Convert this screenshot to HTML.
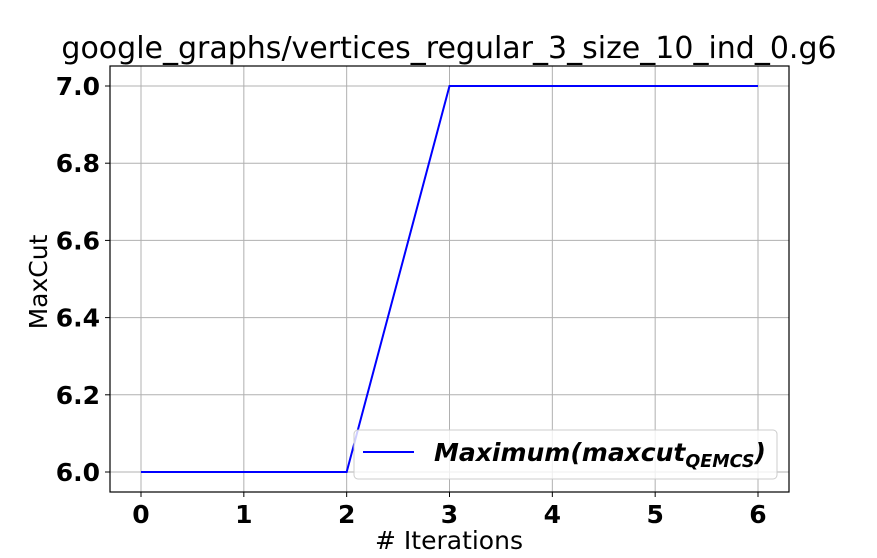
<!DOCTYPE html>
<html><head><meta charset="utf-8"><style>
body{margin:0;background:#fff;}
svg text{font-family:"DejaVu Sans","Liberation Sans",sans-serif;}
</style></head><body>
<svg id="chart" width="877" height="553" xmlns="http://www.w3.org/2000/svg">
<rect width="877" height="553" fill="#fff"/>
<text x="449" y="58" font-size="30" text-anchor="middle">google_graphs/vertices_regular_3_size_10_ind_0.g6</text>
<g id="grid"></g>
<g id="ticks"></g>
<polyline id="line" fill="none" stroke="#0000ff" stroke-width="2"/>
<rect x="110" y="66" width="679" height="426" fill="none" stroke="#000" stroke-width="1.2"/>
<text x="449" y="549" font-size="25" text-anchor="middle"># Iterations</text>
<text transform="translate(47,282) rotate(-90)" font-size="25" text-anchor="middle">MaxCut</text>
<g>
<rect x="354" y="430" width="423" height="49" rx="4" fill="#fff" fill-opacity="0.8" stroke="#ccc"/>
<line x1="363" y1="452" x2="414" y2="452" stroke="#0000ff" stroke-width="2"/>
<text x="434" y="461" font-size="25" font-weight="bold" font-style="italic">Maximum(maxcut<tspan font-size="17.5" dy="6">QEMCS</tspan><tspan dy="-6">)</tspan></text>
</g>
</svg>
<script>
const iterations=[0,1,2,3,4,5,6];
const maxcut=[6,6,6,7,7,7,7];
const xTicks=[0,1,2,3,4,5,6];
const yTicks=[6.0,6.2,6.4,6.6,6.8,7.0];
const ns="http://www.w3.org/2000/svg";
const xs=v=>141+(758-141)*v/6;
const ys=v=>472-(v-6)*386;
const grid=document.getElementById('grid'),ticks=document.getElementById('ticks');
function mk(tag,a,p){const e=document.createElementNS(ns,tag);for(const k in a)e.setAttribute(k,a[k]);p.appendChild(e);return e;}
xTicks.forEach(t=>{
 const g=mk('line',{x1:xs(t),x2:xs(t),y1:66,y2:492,stroke:'#b0b0b0','stroke-width':1},grid);
 
 
 mk('line',{x1:xs(t),x2:xs(t),y1:492,y2:497,stroke:'#000'},ticks);
 const tx=mk('text',{x:xs(t),y:523,'font-size':25,'font-weight':'bold','text-anchor':'middle'},ticks);
 tx.textContent=t;
 
 
});
yTicks.forEach(t=>{
 const g=mk('line',{x1:110,x2:789,y1:ys(t),y2:ys(t),stroke:'#b0b0b0','stroke-width':1},grid);
 
 
 mk('line',{x1:105,x2:110,y1:ys(t),y2:ys(t),stroke:'#000'},ticks);
 const tx=mk('text',{x:100,y:ys(t)+9,'font-size':25,'font-weight':'bold','text-anchor':'end'},ticks);
 tx.textContent=t.toFixed(1);
 
 
});
document.getElementById('line').setAttribute('points',iterations.map((v,i)=>xs(v)+','+ys(maxcut[i])).join(' '));
</script>
</body></html>
